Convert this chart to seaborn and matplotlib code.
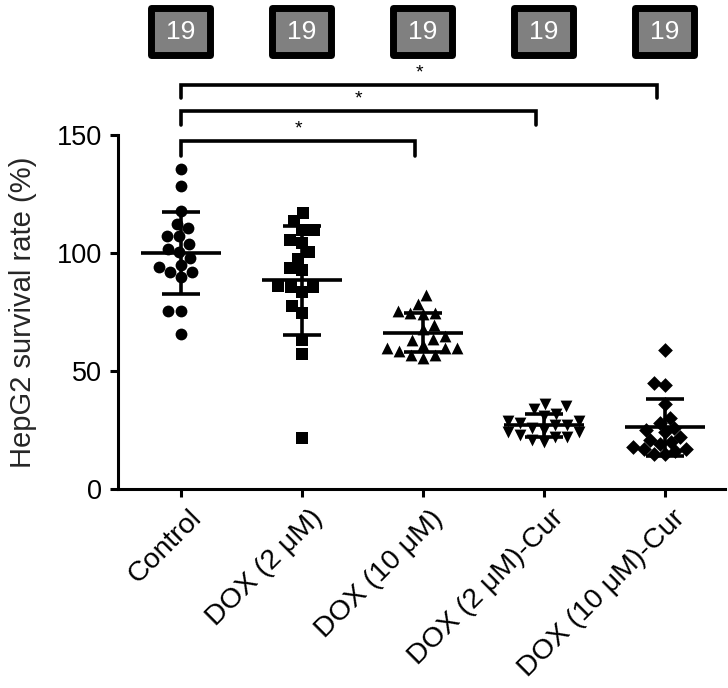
import numpy as np
import pandas as pd
import seaborn as sns
import matplotlib.pyplot as plt
from matplotlib.patches import Rectangle
from matplotlib.transforms import ScaledTranslation

# values
groups = ["Control", "DOX (2 μM)", "DOX (10 μM)", "DOX (2 μM)-Cur", "DOX (10 μM)-Cur"]
control = [135.6, 128.5, 117.9, 110.5, 112.2, 107, 107, 103.7, 100.4, 101.8,
           98, 94.8, 91.9, 94.2, 91.9, 89.8, 75.4, 75.4, 65.9]
dox2 = [113.6, 116.9, 109.8, 109.8, 100.2, 104.4, 105.5, 97.6, 92.8, 93.5,
        85.7, 85.7, 86, 83.4, 77.5, 74.7, 63.3, 57.2, 21.5]
dox10 = [82.4, 78.6, 74.7, 74.7, 75.4, 74, 67.6, 69.3, 63.3, 63.6,
         59.8, 59.8, 59.8, 57, 55.5, 58.4, 57, 65, 61]
dox2_cur = [36, 35, 34, 32, 31, 29, 29, 28, 27, 27,
            26, 25, 24, 24, 23, 22, 22, 21, 20]
dox10_cur = [59, 45, 44, 36, 30, 28, 26, 25, 24, 22,
             21, 20, 19, 18, 17, 17, 16, 15, 15]
markers = ["o", "s", "^", "v", "D"]
n_labels = ["19", "19", "19", "19", "19"]
# significance: (group a, group b, bracket height, leg bottom)
sig_pairs = [(0, 2, 147.2, 141.0), (0, 3, 160.0, 154.2), (0, 4, 171.2, 165.7)]

df = pd.DataFrame({
    "group": np.repeat(groups, 19),
    "rate": control + dox2 + dox10 + dox2_cur + dox10_cur,
})

sns.set_theme(style="ticks")
plt.rcParams["font.family"] = ["Liberation Sans", "DejaVu Sans"]

fig = plt.figure(figsize=(7.28, 6.88), dpi=100)
ax = fig.add_axes([0.162, 0.289, 0.834, 0.515])

for g, m in zip(groups, markers):
    sub = df[df["group"] == g]
    msize = 8.5 if m != "D" else 7.5
    sns.swarmplot(data=sub, x="group", y="rate", order=groups, marker=m,
                  color="black", size=msize, linewidth=0, ax=ax, zorder=3)

stats = df.groupby("group", sort=False)["rate"].agg(["mean", "std"])
for i, g in enumerate(groups):
    mu, sd = stats.loc[g, "mean"], stats.loc[g, "std"]
    ax.hlines(mu, i - 0.33, i + 0.33, color="black", lw=2.6, zorder=4)
    ax.errorbar(i, mu, yerr=sd, color="black", lw=2.6, capsize=14,
                capthick=2.6, zorder=4)

ax.set_xlim(-0.52, 4.5)
ax.set_ylim(0, 150)
ax.set_yticks([0, 50, 100, 150])
ax.set_xlabel("")
ax.set_ylabel("HepG2 survival rate (%)", fontsize=21, labelpad=14)
ax.tick_params(axis="both", direction="out", length=6, width=2.2,
               color="black", labelcolor="black")
ax.tick_params(axis="y", pad=5.5, labelsize=19.5)
ax.tick_params(axis="x", pad=6, labelsize=20.5)
shift = ScaledTranslation(12 / 72, -6 / 72, fig.dpi_scale_trans)
for lbl in ax.get_xticklabels():
    lbl.set_rotation(45)
    lbl.set_ha("right")
    lbl.set_va("center")
    lbl.set_rotation_mode("anchor")
    lbl.set_transform(lbl.get_transform() + shift)
for side in ["left", "bottom"]:
    ax.spines[side].set_linewidth(2.2)
    ax.spines[side].set_color("black")
sns.despine(ax=ax)

# brackets with asterisks
for a, b, h, low in sig_pairs:
    ax.plot([a, a, b - 0.06, b - 0.06], [low, h, h, low], color="black",
            lw=2.6, clip_on=False, solid_joinstyle="miter")
    ax.text((a + b - 0.06) / 2, h + 1.5, "*", ha="center", va="bottom",
            fontsize=14, color="black", clip_on=False)

# n boxes on top
for i, lab in enumerate(n_labels):
    rect = Rectangle((i - 0.245, 183.9), 0.49, 19.7, facecolor="#808080",
                     edgecolor="black", lw=5, clip_on=False,
                     joinstyle="round")
    ax.add_patch(rect)
    ax.text(i, 193.7, lab, ha="center", va="center", color="white",
            fontsize=19, clip_on=False)

fig.savefig("out.png", dpi=100)
